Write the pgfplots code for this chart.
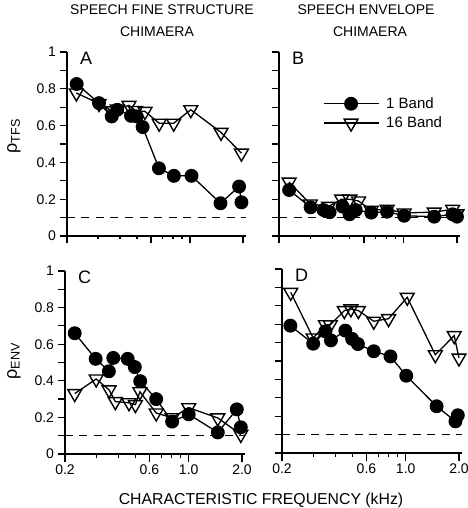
\documentclass[border=0pt]{standalone}
\usepackage{fontspec}
\setmainfont{Liberation Sans}
\usepackage{pgfplots}
\pgfplotsset{compat=1.18}
\pgfplotsset{
  every axis/.append style={
    scale only axis, xmin=0.2, xmax=2.08, ymin=0, ymax=1,
    axis x line*=bottom, axis y line*=left,
    axis line style={line width=1.3bp,-},
    ytick={0,0.1,0.2,0.3,0.4,0.5,0.6,0.7,0.8,0.9,1},
    xtick={0.2,0.6,1,2},
    minor xtick={0.3,0.4,0.5,0.7,0.8,0.9},
    tick align=outside, major tick length=7.5bp, minor tick length=3.5bp,
    every tick/.append style={black, line width=1.2bp},
    tick label style={font=\fontsize{14bp}{16bp}\selectfont, text=black},
    clip=false,
  },
  myone/.style={black, line width=1.3bp, mark=*, mark size=6.3bp, mark options={solid, fill=black}},
  mysix/.style={black, line width=1.3bp, mark=triangle, mark size=8bp, mark options={solid, rotate=180, fill=white, line width=1.4bp}},
  dash01/.style={black, line width=1.4bp, dash pattern=on 8bp off 6.5bp},
}
\newcommand{\plabel}[1]{\node[anchor=north west, inner sep=0, font=\fontsize{18bp}{18bp}\selectfont] at (rel axis cs:0.072,1) {#1};}
\begin{document}
\begin{tikzpicture}
\useasboundingbox (0bp,0bp) rectangle (468bp,508bp);
% headers
\node[anchor=base, font=\fontsize{14bp}{16bp}\selectfont] at (162bp,493bp) {SPEECH FINE STRUCTURE};
\node[anchor=base, font=\fontsize{14bp}{16bp}\selectfont] at (157bp,471bp) {CHIMAERA};
\node[anchor=base, font=\fontsize{14bp}{16bp}\selectfont] at (366bp,493bp) {SPEECH ENVELOPE};
\node[anchor=base, font=\fontsize{14bp}{16bp}\selectfont] at (370bp,471bp) {CHIMAERA};
% y labels
\node[rotate=90, font=\fontsize{18bp}{20bp}\selectfont] at (14bp,372bp) {ρ\textsubscript{TFS}};
\node[rotate=90, font=\fontsize{18bp}{20bp}\selectfont] at (14bp,147bp) {ρ\textsubscript{ENV}};
% x label
\node[anchor=base, font=\fontsize{15.8bp}{17bp}\selectfont] at (261bp,4bp) {CHARACTERISTIC FREQUENCY (kHz)};

% Panel A
\begin{axis}[xmode=log, at={(67bp,272bp)}, anchor=south west, width=179bp, height=184bp,
  xticklabels={}, yticklabels={0,,0.2,,0.4,,0.6,,0.8,,1}]
\addplot[dash01, forget plot] coordinates {(0.2,0.1) (2.08,0.1)};
\addplot[mysix] coordinates {(0.226,0.777) (0.304,0.72) (0.36,0.68) (0.386,0.69) (0.45,0.71) (0.49,0.682) (0.555,0.677) (0.668,0.613) (0.808,0.613) (1.01,0.686) (1.5,0.563) (1.96,0.45)};
\addplot[myone] coordinates {(0.227,0.826) (0.304,0.722) (0.359,0.65) (0.386,0.686) (0.462,0.653) (0.498,0.65) (0.538,0.592) (0.666,0.368) (0.81,0.327) (1.02,0.327) (1.49,0.178) (1.9,0.269) (1.96,0.183)};
\plabel{A}
\end{axis}

% Panel B
\begin{axis}[xmode=log, at={(279bp,272bp)}, anchor=south west, width=181bp, height=184bp,
  xticklabels={}, yticklabels={},
  legend style={draw=none, fill=none, at={(0.225,0.775)}, anchor=north west,
    font=\fontsize{15bp}{17bp}\selectfont, row sep=3pt,
    /tikz/every odd column/.append style={column sep=5pt}},
  legend cell align=left, reverse legend,
  legend image code/.code={\draw[mark repeat=2,mark phase=2] plot coordinates {(0cm,0cm) (0.97cm,0cm) (1.94cm,0cm)};}]
\addplot[dash01, forget plot] coordinates {(0.2,0.1) (2.08,0.1)};
\addplot[mysix] coordinates {(0.228,0.293) (0.30,0.174) (0.38,0.161) (0.45,0.2) (0.50,0.2) (0.56,0.19) (0.66,0.14) (0.81,0.145) (1.01,0.125) (1.49,0.13) (1.89,0.145) (2.0,0.12)};
\addlegendentry{16 Band}
\addplot[myone] coordinates {(0.228,0.25) (0.301,0.156) (0.356,0.141) (0.385,0.129) (0.455,0.16) (0.498,0.118) (0.54,0.141) (0.66,0.127) (0.81,0.132) (1.01,0.11) (1.49,0.105) (1.89,0.118) (2.0,0.105)};
\addlegendentry{1 Band}
\plabel{B}
\end{axis}

% Panel C
\begin{axis}[xmode=log, at={(65bp,54bp)}, anchor=south west, width=180bp, height=183bp,
  xticklabels={0.2,0.6,1.0,2.0}, yticklabels={0,,0.2,,0.4,,0.6,,0.8,,1}]
\addplot[dash01, forget plot] coordinates {(0.2,0.1) (2.08,0.1)};
\addplot[mysix] coordinates {(0.227,0.33) (0.30,0.41) (0.355,0.35) (0.385,0.286) (0.46,0.28) (0.50,0.27) (0.53,0.34) (0.655,0.224) (0.806,0.198) (1.0,0.253) (1.46,0.197) (1.97,0.107)};
\addplot[myone] coordinates {(0.227,0.66) (0.298,0.52) (0.354,0.452) (0.375,0.525) (0.452,0.52) (0.496,0.475) (0.532,0.398) (0.655,0.30) (0.806,0.177) (1.0,0.217) (1.46,0.118) (1.87,0.244) (1.97,0.146)};
\plabel{C}
\end{axis}

% Panel D
\begin{axis}[xmode=log, at={(282bp,55bp)}, anchor=south west, width=180bp, height=184bp,
  xticklabels={0.2,0.6,1.0,2.0}, yticklabels={}]
\addplot[dash01, forget plot] coordinates {(0.2,0.1) (2.08,0.1)};
\addplot[mysix] coordinates {(0.224,0.873) (0.30,0.625) (0.352,0.697) (0.375,0.697) (0.45,0.774) (0.49,0.783) (0.54,0.774) (0.66,0.716) (0.80,0.73) (1.02,0.846) (1.47,0.534) (1.88,0.638) (2.0,0.516)};
\addplot[myone] coordinates {(0.223,0.692) (0.30,0.594) (0.352,0.661) (0.378,0.612) (0.456,0.665) (0.498,0.62) (0.537,0.592) (0.66,0.553) (0.82,0.525) (1.007,0.42) (1.495,0.254) (1.91,0.172) (1.97,0.205)};
\plabel{D}
\end{axis}
\end{tikzpicture}
\end{document}
